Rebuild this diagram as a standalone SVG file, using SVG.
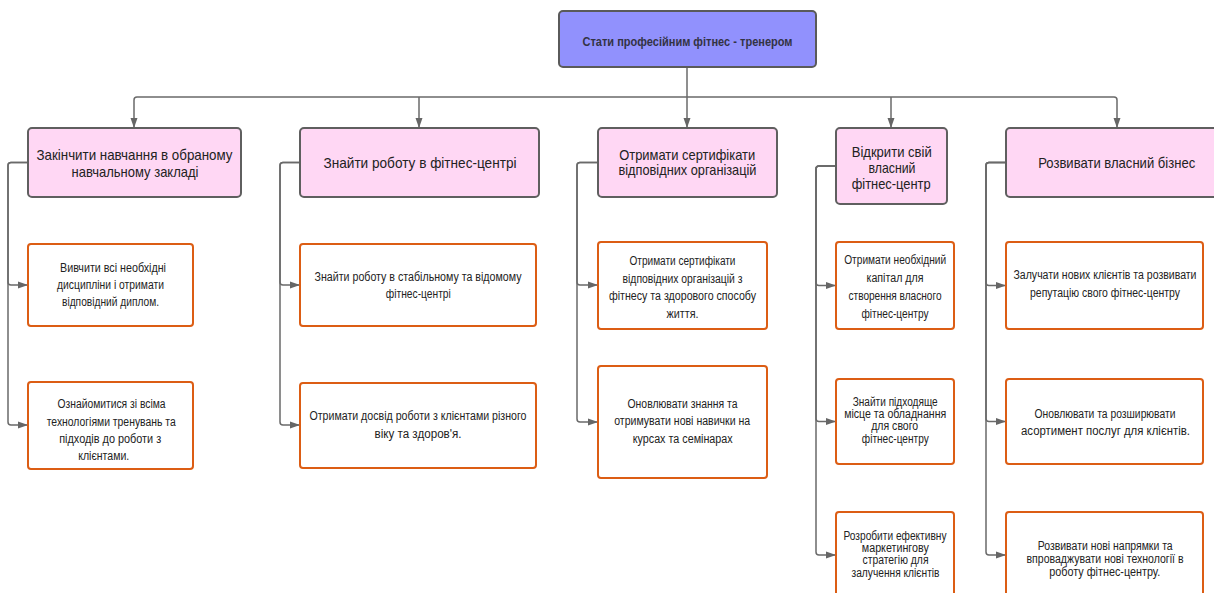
<svg xmlns="http://www.w3.org/2000/svg" width="1214" height="593" viewBox="0 0 1214 593">
  <defs>
    <marker id="arrow" markerUnits="userSpaceOnUse" markerWidth="11" markerHeight="8" refX="10" refY="4" orient="auto">
      <path d="M0,0.5 L10,4 L0,7.5 z" fill="#666666"/>
    </marker>
    <style>
      .bg { fill: #ffffff; }
      .root { fill: #9191fd; stroke: #5a5a5a; stroke-width: 2; }
      .goal { fill: #ffd7f4; stroke: #5f5f5f; stroke-width: 2; }
      .step { fill: #ffffff; stroke: #dc5d14; stroke-width: 2; }
      .link { fill: none; stroke: #6a6a6a; stroke-width: 1.5; marker-end: url(#arrow); }
      .bus { fill: none; stroke: #6a6a6a; stroke-width: 1.5; }
      text { font-family: "Liberation Sans", Arial, sans-serif; fill: #222222; text-anchor: middle; }
      .t0 { font-size: 13px; font-weight: bold; fill: #333344; }
      .t1 { font-size: 15px; }
      .t2 { font-size: 12.5px; }
    </style>
  </defs>

  <rect class="bg" x="0" y="0" width="1214" height="593"/>

  <!-- connectors -->
  <g id="connectors">
    <path class="bus" d="M687,67 V97"/>
    <path class="link" d="M687,97 H137 Q134,97 134,100 V128"/>
    <path class="link" d="M419,97 V128"/>
    <path class="link" d="M687,97 V128"/>
    <path class="link" d="M891,97 V128"/>
    <path class="link" d="M687,97 H1114 Q1117,97 1117,100 V128"/>

    <path class="link" d="M28,162.5 H11 Q8,162.5 8,165.5 V282 Q8,285 11,285 H28"/>
    <path class="link" d="M28,162.5 H11 Q8,162.5 8,165.5 V422 Q8,425 11,425 H28"/>

    <path class="link" d="M300,162.5 H283 Q280,162.5 280,165.5 V282 Q280,285 283,285 H300"/>
    <path class="link" d="M300,162.5 H283 Q280,162.5 280,165.5 V422 Q280,425 283,425 H300"/>

    <path class="link" d="M598,162.5 H580 Q577,162.5 577,165.5 V282 Q577,285 580,285 H598"/>
    <path class="link" d="M598,162.5 H580 Q577,162.5 577,165.5 V419 Q577,422 580,422 H598"/>

    <path class="link" d="M836,166 H819 Q816,166 816,169 V282.5 Q816,285.5 819,285.5 H836"/>
    <path class="link" d="M836,166 H819 Q816,166 816,169 V418.5 Q816,421.5 819,421.5 H836"/>
    <path class="link" d="M836,166 H819 Q816,166 816,169 V552 Q816,555 819,555 H836"/>

    <path class="link" d="M1006,162.5 H989 Q986,162.5 986,165.5 V282.5 Q986,285.5 989,285.5 H1006"/>
    <path class="link" d="M1006,162.5 H989 Q986,162.5 986,165.5 V418.5 Q986,421.5 989,421.5 H1006"/>
    <path class="link" d="M1006,162.5 H989 Q986,162.5 986,165.5 V552 Q986,555 989,555 H1006"/>
  </g>

  <!-- top goal -->
  <g id="root">
    <rect class="root" x="559" y="11" width="257" height="56" rx="4"/>
    <text class="t0" x="687.5" y="46" textLength="210" lengthAdjust="spacingAndGlyphs">Стати професійним фітнес - тренером</text>
  </g>

  <!-- column 1 -->
  <g id="goal-study">
    <rect class="goal" x="28" y="128" width="213" height="69" rx="4"/>
    <text class="t1" x="134.5" y="160" textLength="196" lengthAdjust="spacingAndGlyphs">Закінчити навчання в обраному</text>
    <text class="t1" x="135" y="177" textLength="127" lengthAdjust="spacingAndGlyphs">навчальному закладі</text>
  </g>
  <g id="study-1">
    <rect class="step" x="28" y="244" width="165" height="82" rx="3"/>
    <text class="t2" x="113" y="272" textLength="106" lengthAdjust="spacingAndGlyphs">Вивчити всі необхідні</text>
    <text class="t2" x="110.5" y="289" textLength="107" lengthAdjust="spacingAndGlyphs">дисципліни і отримати</text>
    <text class="t2" x="110.5" y="306" textLength="97" lengthAdjust="spacingAndGlyphs">відповідний диплом.</text>
  </g>
  <g id="study-2">
    <rect class="step" x="28" y="382" width="165" height="87" rx="3"/>
    <text class="t2" x="111.5" y="408" textLength="108" lengthAdjust="spacingAndGlyphs">Ознайомитися зі всіма</text>
    <text class="t2" x="111.2" y="426" textLength="129" lengthAdjust="spacingAndGlyphs">технологіями тренувань та</text>
    <text class="t2" x="110.2" y="443" textLength="102" lengthAdjust="spacingAndGlyphs">підходів до роботи з</text>
    <text class="t2" x="103.7" y="460" textLength="51" lengthAdjust="spacingAndGlyphs">клієнтами.</text>
  </g>

  <!-- column 2 -->
  <g id="goal-job">
    <rect class="goal" x="300" y="128" width="239" height="69" rx="4"/>
    <text class="t1" x="420" y="168" textLength="193" lengthAdjust="spacingAndGlyphs">Знайти роботу в фітнес-центрі</text>
  </g>
  <g id="job-1">
    <rect class="step" x="300" y="244" width="236" height="82" rx="3"/>
    <text class="t2" x="418" y="281" textLength="207" lengthAdjust="spacingAndGlyphs">Знайти роботу в стабільному та відомому</text>
    <text class="t2" x="418.3" y="298" textLength="65" lengthAdjust="spacingAndGlyphs">фітнес-центрі</text>
  </g>
  <g id="job-2">
    <rect class="step" x="300" y="383" width="236" height="85" rx="3"/>
    <text class="t2" x="418" y="420" textLength="217" lengthAdjust="spacingAndGlyphs">Отримати досвід роботи з клієнтами різного</text>
    <text class="t2" x="418" y="438" textLength="87" lengthAdjust="spacingAndGlyphs">віку та здоров'я.</text>
  </g>

  <!-- column 3 -->
  <g id="goal-cert">
    <rect class="goal" x="598" y="128" width="179" height="69" rx="4"/>
    <text class="t1" x="687.2" y="160" textLength="136" lengthAdjust="spacingAndGlyphs">Отримати сертифікати</text>
    <text class="t1" x="687.5" y="175" textLength="138" lengthAdjust="spacingAndGlyphs">відповідних організацій</text>
  </g>
  <g id="cert-1">
    <rect class="step" x="598" y="242" width="169" height="87" rx="3"/>
    <text class="t2" x="682.5" y="265" textLength="106" lengthAdjust="spacingAndGlyphs">Отримати сертифікати</text>
    <text class="t2" x="682.5" y="282.5" textLength="120" lengthAdjust="spacingAndGlyphs">відповідних організацій з</text>
    <text class="t2" x="682.5" y="300" textLength="147" lengthAdjust="spacingAndGlyphs">фітнесу та здорового способу</text>
    <text class="t2" x="682.5" y="317.5" textLength="32" lengthAdjust="spacingAndGlyphs">життя.</text>
  </g>
  <g id="cert-2">
    <rect class="step" x="598" y="366" width="169" height="112" rx="3"/>
    <text class="t2" x="682.5" y="408" textLength="110" lengthAdjust="spacingAndGlyphs">Оновлювати знання та</text>
    <text class="t2" x="682.2" y="425" textLength="136" lengthAdjust="spacingAndGlyphs">отримувати нові навички на</text>
    <text class="t2" x="682.7" y="442.5" textLength="100" lengthAdjust="spacingAndGlyphs">курсах та семінарах</text>
  </g>

  <!-- column 4 -->
  <g id="goal-open">
    <rect class="goal" x="836" y="128" width="111" height="76" rx="4"/>
    <text class="t1" x="891.7" y="156.5" textLength="80" lengthAdjust="spacingAndGlyphs">Відкрити свій</text>
    <text class="t1" x="892" y="173" textLength="47" lengthAdjust="spacingAndGlyphs">власний</text>
    <text class="t1" x="891.2" y="189" textLength="79" lengthAdjust="spacingAndGlyphs">фітнес-центр</text>
  </g>
  <g id="open-1">
    <rect class="step" x="836" y="242" width="118" height="87" rx="3"/>
    <text class="t2" x="895.2" y="264" textLength="102" lengthAdjust="spacingAndGlyphs">Отримати необхідний</text>
    <text class="t2" x="895" y="282" textLength="57" lengthAdjust="spacingAndGlyphs">капітал для</text>
    <text class="t2" x="895" y="300" textLength="93" lengthAdjust="spacingAndGlyphs">створення власного</text>
    <text class="t2" x="895" y="318" textLength="67" lengthAdjust="spacingAndGlyphs">фітнес-центру</text>
  </g>
  <g id="open-2">
    <rect class="step" x="836" y="379" width="118" height="85" rx="3"/>
    <text class="t2" x="895.2" y="406" textLength="85" lengthAdjust="spacingAndGlyphs">Знайти підходяще</text>
    <text class="t2" x="895.2" y="418" textLength="102" lengthAdjust="spacingAndGlyphs">місце та обладнання</text>
    <text class="t2" x="894.7" y="430" textLength="47" lengthAdjust="spacingAndGlyphs">для свого</text>
    <text class="t2" x="895.3" y="443" textLength="67" lengthAdjust="spacingAndGlyphs">фітнес-центру</text>
  </g>
  <g id="open-3">
    <rect class="step" x="836" y="512" width="118" height="90" rx="3"/>
    <text class="t2" x="895" y="540" textLength="103" lengthAdjust="spacingAndGlyphs">Розробити ефективну</text>
    <text class="t2" x="895.3" y="552" textLength="67" lengthAdjust="spacingAndGlyphs">маркетингову</text>
    <text class="t2" x="895.5" y="564" textLength="66" lengthAdjust="spacingAndGlyphs">стратегію для</text>
    <text class="t2" x="895.5" y="576.5" textLength="88" lengthAdjust="spacingAndGlyphs">залучення клієнтів</text>
  </g>

  <!-- column 5 -->
  <g id="goal-grow">
    <rect class="goal" x="1006" y="128" width="222" height="69" rx="4"/>
    <text class="t1" x="1116.7" y="168" textLength="157" lengthAdjust="spacingAndGlyphs">Розвивати власний бізнес</text>
  </g>
  <g id="grow-1">
    <rect class="step" x="1006" y="242" width="197" height="87" rx="3"/>
    <text class="t2" x="1105" y="278.5" textLength="183" lengthAdjust="spacingAndGlyphs">Залучати нових клієнтів та розвивати</text>
    <text class="t2" x="1105" y="297" textLength="150" lengthAdjust="spacingAndGlyphs">репутацію свого фітнес-центру</text>
  </g>
  <g id="grow-2">
    <rect class="step" x="1006" y="379" width="197" height="85" rx="3"/>
    <text class="t2" x="1105" y="418" textLength="141" lengthAdjust="spacingAndGlyphs">Оновлювати та розширювати</text>
    <text class="t2" x="1105.5" y="435" textLength="169" lengthAdjust="spacingAndGlyphs">асортимент послуг для клієнтів.</text>
  </g>
  <g id="grow-3">
    <rect class="step" x="1006" y="512" width="197" height="90" rx="3"/>
    <text class="t2" x="1105.2" y="550" textLength="135" lengthAdjust="spacingAndGlyphs">Розвивати нові напрямки та</text>
    <text class="t2" x="1105" y="563" textLength="157" lengthAdjust="spacingAndGlyphs">впроваджувати нові технології в</text>
    <text class="t2" x="1104.7" y="575.5" textLength="111" lengthAdjust="spacingAndGlyphs">роботу фітнес-центру.</text>
  </g>
</svg>
